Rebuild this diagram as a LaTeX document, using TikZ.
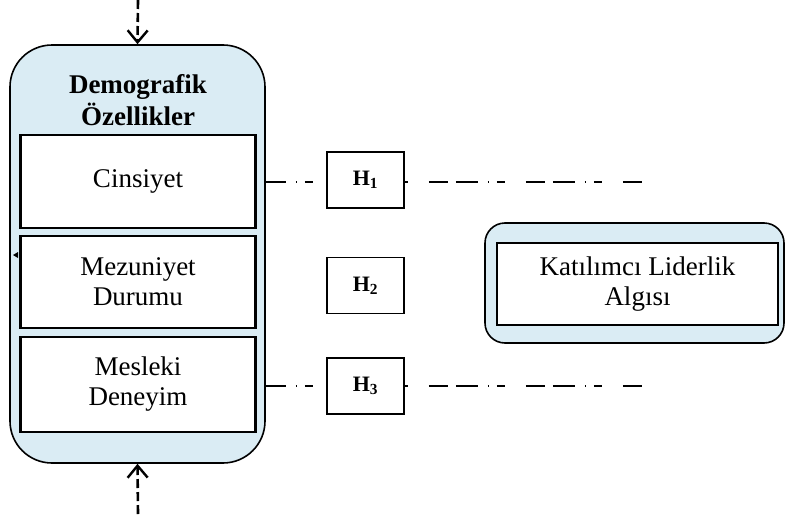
\documentclass[tikz,border=0pt]{standalone}
\usepackage{fontspec}
\setmainfont{Liberation Serif}
\usetikzlibrary{arrows.meta}
\definecolor{lblue}{HTML}{DAECF4}
\tikzset{
  outerbox/.style={draw=black, line width=1.6pt, fill=lblue, rounded corners=#1, inner sep=0pt},
  innerbox/.style={draw=black, line width=2.6pt, fill=white, inner sep=0pt, align=center,
                   font=\fontsize{27}{30}\selectfont},
  hbox/.style={draw=black, line width=1.8pt, fill=white, inner sep=0pt,
               minimum width=77pt, minimum height=56pt, font=\fontsize{22}{25}\selectfont\bfseries},
  hline/.style={line width=2.6pt, dash pattern=on 19pt off 8pt on 22pt off 10pt on 1pt off 8pt on 8pt off 21pt},
  dasharrow/.style={line width=2.6pt, dash pattern=on 9pt off 4pt, -{Straight Barb[length=12pt,width=20pt,line width=2.4pt]}}
}
\begin{document}
\begin{tikzpicture}[x=1pt,y=-1pt]
\useasboundingbox (0,0) rectangle (787,514);
% left panel
\node[outerbox=42pt, minimum width=255pt, minimum height=418pt] (demo) at (137.5,254) {};
\node[font=\fontsize{27}{32}\selectfont\bfseries, align=center] (title) at (138,100) {Demografik\\Özellikler};
\node[innerbox, minimum width=235pt, minimum height=93pt] (cins) at (138,181.5) {Cinsiyet};
\node[innerbox, minimum width=235pt, minimum height=92pt] (mez) at (138,282) {Mezuniyet\\Durumu};
\node[innerbox, minimum width=235pt, minimum height=95pt] (mes) at (138,384.5) {Mesleki\\Deneyim};
\fill (13,255) -- (18,252) -- (18,258) -- cycle;
% arrows top and bottom
\coordinate (topin) at (138,0);
\coordinate (botin) at (138,514);
\draw[dasharrow] (topin) -- (demo.north);
\draw[dasharrow] (botin) -- (demo.south);
% hypotheses
\node[hbox] (h1) at (365.5,180) {H\textsubscript{1}};
\node[hbox] (h2) at (365.5,285.5) {H\textsubscript{2}};
\node[hbox] (h3) at (365.5,386) {H\textsubscript{3}};
\coordinate (e1) at (642,182);
\coordinate (e3) at (642,386);
\draw[hline, dash phase=29pt] (demo.east |- 0,182) -- (h1.west |- 0,182);
\draw[hline, dash phase=73pt] (h1.east |- 0,182) -- (e1);
\draw[hline, dash phase=29pt] (demo.east |- 0,386) -- (h3.west |- 0,386);
\draw[hline, dash phase=73pt] (h3.east |- 0,386) -- (e3);
% right panel
\node[outerbox=20pt, minimum width=299pt, minimum height=120pt] (kout) at (634.5,283) {};
\node[innerbox, minimum width=281pt, minimum height=82pt] (kat) at (637.5,284) {Katılımcı Liderlik\\Algısı};
\end{tikzpicture}
\end{document}
